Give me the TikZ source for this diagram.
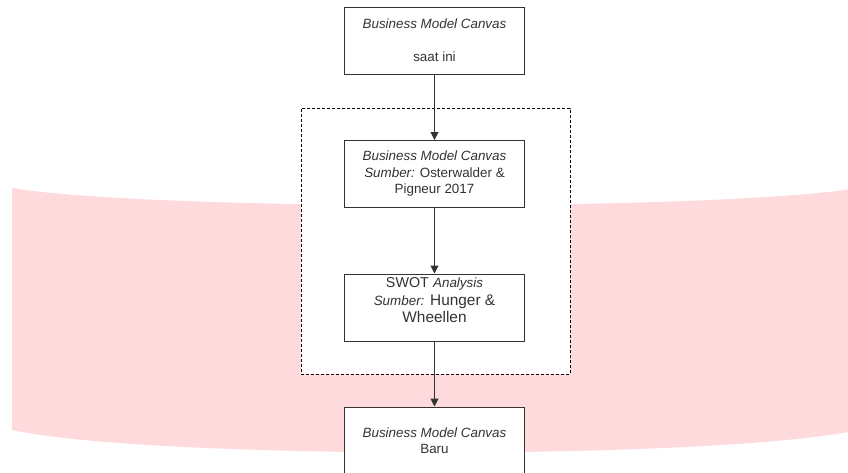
\documentclass[tikz,border=0pt]{standalone}
\usepackage{fontspec}
\setmainfont{Liberation Sans}
\usetikzlibrary{arrows.meta}
\definecolor{tapepink}{HTML}{FFDADC}
\definecolor{ink}{HTML}{333333}
\newcommand{\smallit}[1]{{\fontsize{13.4}{17.5}\selectfont\itshape #1}}
\begin{document}
\begin{tikzpicture}[x=1pt,y=-1pt,
  stepbox/.style={draw=ink, fill=white, line width=1pt, minimum width=180pt,
    minimum height=67pt, inner sep=0pt, align=center, text=ink,
    font=\fontsize{13.4}{16.5}\selectfont},
  groupbox/.style={draw=black, fill=white, line width=0.7pt,
    dash pattern=on 3pt off 2pt, minimum width=269pt, minimum height=266pt,
    inner sep=0pt},
  flow/.style={draw=ink, line width=1pt, -{Triangle[length=8pt,width=8pt]}}]
\useasboundingbox (0,0) rectangle (848,472);
\clip (0,0) rectangle (848,472);

% wavy background band
\fill[tapepink] (12,188) .. controls (150,211) and (720,211) .. (858,188)
  -- (858,430) .. controls (720,460) and (150,460) .. (12,430) -- cycle;

% dashed grouping frame
\node[groupbox] (group) at (435.5,241) {};

% process boxes
\node[stepbox] (current) at (434.5,40.5)
  {\textit{Business Model Canvas}\\[16.5pt]saat ini};
\node[stepbox] (bmc) at (434.5,174)
  {\textit{Business Model Canvas}\\\textit{Sumber:} Osterwalder \&\\Pigneur 2017};
\node[stepbox] (swot) at (434.5,307.5) {};
\node[align=center, text=ink, inner sep=0pt, font=\fontsize{15.4}{17.5}\selectfont]
  (swottext) at (434.5,300.5)
  {{\fontsize{14.3}{17.5}\selectfont SWOT} \smallit{Analysis}\\\smallit{Sumber:} Hunger \&\\Wheellen};
\node[stepbox] (new) at (434.5,440.5)
  {\textit{Business Model Canvas}\\Baru};

% connectors
\draw[flow] (current) -- (bmc);
\draw[flow] (bmc) -- (swot);
\draw[flow] (swot) -- (new);
\end{tikzpicture}
\end{document}
